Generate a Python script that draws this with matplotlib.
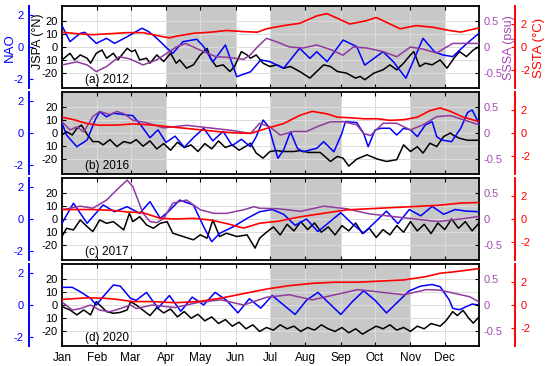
import matplotlib
matplotlib.use("Agg")
import matplotlib.pyplot as plt

plt.rcParams["font.family"] = ["Liberation Sans", "DejaVu Sans"]
plt.rcParams["axes.unicode_minus"] = False

MONTHS = ["Jan", "Feb", "Mar", "Apr", "May", "Jun",
          "Jul", "Aug", "Sep", "Oct", "Nov", "Dec"]
MONTH_START = [1, 32, 61, 92, 122, 153, 183, 214, 245, 275, 306, 336]
JSPA_TICKS = [-20, -10, 0, 10, 20]
JSPA_TICKLABELS = ["-20", "10", "0", "10", "20"]

# ---- (a) 2012 ----
NAO_2012_DAY = [1, 8, 17, 21, 31, 40, 47, 58, 71, 77, 84, 93, 98, 107, 119, 125, 133, 144, 154, 166,
                175, 183, 195, 209, 218, 224, 233, 247, 259, 266, 282, 291, 302, 317, 327, 334, 343, 355, 366]
NAO_2012 = [1.35, 0.34, 0.87, 0.93, 0.23, 0.55, 0.23, 0.65, 1.19, 0.97, 0.55, -0.08, -0.4, 0.34, 0.49,
            0.02, -0.95, 0.13, -1.88, -1.57, -0.82, -0.93, -1.35, -0.08, -0.72, -0.30, -0.93, 0.44, 0.02,
            -1.15, -0.30, -0.93, -1.98, 0.55, -0.30, -0.5, -0.61, 0.2, 0.87]
SSTA_2012_DAY = [1, 14, 28, 43, 58, 72, 87, 95, 101, 116, 131, 145, 160, 172, 180, 195, 209, 224, 233,
                 253, 267, 276, 297, 311, 326, 340, 350, 366]
SSTA_2012 = [1.3, 1.17, 1.08, 1.17, 1.26, 1.26, 0.95, 0.8, 0.95, 1.2, 1.3, 1.45, 1.35, 1.3, 1.6, 1.88,
             2.08, 2.73, 2.93, 2.02, 2.3, 2.59, 1.6, 1.88, 1.73, 1.45, 1.31, 1.68]
SSSA_2012_DAY = [1, 14, 23, 31, 40, 51, 60, 72, 84, 93, 101, 109, 116, 128, 136, 145, 160, 166, 172, 180,
                 189, 200, 212, 224, 236, 247, 256, 268, 282, 294, 306, 317, 329, 336, 343, 366]
SSSA_2012 = [-0.35, -0.29, -0.35, -0.48, -0.38, -0.19, -0.23, -0.35, -0.25, -0.12, 0.0, 0.07, 0.0, -0.12,
             -0.19, -0.2, -0.24, -0.15, 0.0, 0.17, 0.1, 0.0, -0.02, 0.04, -0.05, -0.16, 0.0, -0.02, -0.09,
             -0.19, 0.0, -0.04, -0.12, -0.02, 0.07, 0.07]
JSPA_2012_DAY = [1, 8, 12, 17, 23, 26, 31, 36, 40, 46, 50, 58, 62, 65, 69, 75, 78, 84, 90, 96, 101, 104,
                 110, 116, 122, 128, 131, 136, 142, 148, 152, 158, 163, 166, 171, 177, 183, 189, 195, 201,
                 209, 218, 224, 230, 236, 242, 250, 258, 262, 266, 274, 282, 288, 294, 300, 306, 309, 314,
                 319, 325, 332, 338, 344, 349, 355, 361, 366]
JSPA_2012 = [-9.75, -4.75, -9.75, -6, -8.5, -12.25, -4.75, -2.25, -8.5, -4.75, -9.75, -1, -3.5, -2.25,
             -9.75, -8.5, -12.25, -6, -11, -4.75, -12.25, -9.75, -16, -13.5, -6, -1, -8.5, -14.75, -13.5,
             -18.5, -14.75, -3.5, -6, -8.5, -6, -12.25, -14.75, -13.5, -16, -14.75, -18.5, -23.5, -18.5,
             -13.5, -14.75, -18.5, -19.75, -23.5, -22.25, -24.75, -19.75, -17.25, -13.5, -17.25, -12.25,
             -6, -3.5, -14.75, -12.25, -13.5, -9.75, -16, -8.5, -3.5, -7.25, -2.25, 0.25]

# ---- (b) 2016 ----
NAO_2016_DAY = [1, 5, 14, 23, 30, 34, 40, 46, 52, 58, 63, 70, 78, 85, 92, 100, 108, 116, 125, 133, 142,
                150, 158, 166, 171, 177, 182, 186, 190, 195, 201, 207, 212, 224, 230, 239, 246, 249, 259,
                265, 269, 275, 280, 288, 294, 300, 306, 312, 319, 325, 329, 333, 342, 350, 356, 360, 366]
NAO_2016 = [0.62, -0.13, -0.87, -0.44, 0.82, 1.35, 1.03, 1.25, 1.2, 1.14, 1.1, 0.5, -0.3, 0.2, -0.6,
            -0.2, -0.9, -0.3, 0.3, -0.5, 0.1, -0.8, -0.4, -0.87, -0.23, 0.82, 0.4, -0.65, -1.6, -1.08,
            0.08, -0.97, -1.19, -0.97, -0.55, -1.19, -0.02, 0.72, 0.66, -0.02, -0.87, 0.19, 0.3, 0.3,
            -0.13, 0.3, 0.2, -0.23, 0.51, 0.72, -0.23, -0.44, -0.55, 0.3, 1.3, 1.46, 0.6]
SSTA_2016_DAY = [1, 12, 23, 34, 50, 63, 80, 100, 120, 140, 155, 166, 180, 195, 209, 220, 233, 242, 253,
                 265, 277, 288, 300, 312, 323, 332, 341, 352, 366]
SSTA_2016 = [1.39, 1.15, 0.83, 0.68, 0.7, 0.8, 0.7, 0.5, 0.3, 0.1, 0.0, -0.03, 0.4, 0.83, 1.54, 1.9,
             1.68, 1.39, 1.34, 1.25, 1.25, 1.11, 1.17, 1.39, 1.96, 2.2, 1.9, 1.4, 1.0]
SSSA_2016_DAY = [1, 8, 14, 20, 28, 34, 43, 49, 55, 63, 75, 90, 110, 130, 150, 166, 174, 183, 192, 204,
                 215, 224, 236, 247, 259, 265, 271, 282, 294, 306, 317, 329, 341, 366]
SSSA_2016 = [0.22, 0.06, 0.12, 0.02, 0.32, 0.42, 0.36, 0.42, 0.38, 0.25, 0.2, 0.1, 0.15, 0.1, 0.05,
             -0.01, 0.19, 0.12, -0.04, 0.03, 0.03, 0.12, 0.22, 0.22, 0.16, -0.01, -0.05, 0.19, 0.19,
             0.06, 0.16, 0.32, 0.34, 0.16]
JSPA_2016_DAY = [1, 5, 10, 14, 18, 23, 28, 33, 37, 43, 49, 55, 61, 66, 72, 78, 84, 90, 96, 102, 108,
                 114, 120, 126, 132, 138, 144, 150, 156, 162, 166, 171, 177, 183, 189, 195, 204, 209, 217,
                 227, 236, 242, 247, 252, 259, 268, 277, 285, 294, 300, 306, 312, 317, 323, 329, 335, 341,
                 344, 349, 356, 366]
JSPA_2016 = [-1.5, 1, -1.5, 3.5, 6, -1, -6.5, -6.5, -9, -5, -10.3, -6.5, -7.7, -5, -10, -6, -12, -8,
             -13, -7, -11, -9, -14, -8, -12, -6, -11, -9, -13, -10, -7.7, -15.2, -19, -14, -13.3, -14,
             -14, -13.3, -14.7, -14.7, -21.5, -17.7, -19, -25, -19.7, -16.5, -19.7, -21.5, -20.2, -9,
             -14, -10.3, -15.2, -7.7, -10.3, -2.7, 0, -2, -4, -5.5, -5.5]

# ---- (c) 2017 ----
NAO_2017_DAY = [1, 11, 23, 37, 47, 58, 69, 78, 87, 94, 104, 116, 125, 132, 139, 151, 163, 174, 185,
                195, 205, 215, 225, 235, 245, 255, 265, 275, 285, 295, 305, 315, 325, 335, 345, 355, 366]
NAO_2017 = [-0.27, 1.0, -0.27, 0.89, 0.46, 0.78, 0.36, 1.1, 0.04, 0.46, 1.2, 0.89, -0.49, -1.44, -0.91,
            -0.49, 0.04, 0.46, 0.6, 0.3, -0.4, 0.0, -0.8, -0.2, 0.4, -0.3, -0.9, -0.2, 0.5, -0.3, 0.6,
            0.2, 0.8, 0.3, 0.6, 0.5, 0.46]
SSTA_2017_DAY = [1, 28, 46, 58, 72, 87, 101, 116, 131, 145, 160, 174, 190, 210, 230, 250, 270, 290, 310,
                 330, 350, 366]
SSTA_2017 = [0.83, 0.83, 0.75, 0.62, 0.55, 0.06, 0.0, 0.06, -0.09, -0.4, -0.8, -0.37, -0.2, 0.2, 0.5,
             0.8, 0.9, 1.0, 1.1, 1.2, 1.4, 1.45]
SSSA_2017_DAY = [1, 17, 28, 40, 49, 58, 63, 72, 78, 84, 90, 98, 110, 122, 134, 145, 160, 169, 174, 190,
                 210, 230, 250, 270, 290, 310, 330, 350, 366]
SSSA_2017 = [0.18, 0.25, 0.21, 0.37, 0.57, 0.76, 0.63, 0.11, -0.05, -0.07, 0.01, 0.31, 0.37, 0.18, 0.11,
             0.11, 0.18, 0.24, 0.21, 0.2, 0.15, 0.25, 0.2, 0.1, 0.05, 0.0, -0.05, 0.0, 0.05]
JSPA_2017_DAY = [1, 5, 11, 17, 23, 28, 34, 40, 46, 55, 60, 63, 69, 75, 81, 87, 93, 98, 107, 116, 122,
                 128, 133, 139, 145, 154, 163, 170, 174, 180, 186, 192, 198, 204, 210, 216, 222, 228, 234,
                 240, 246, 252, 258, 264, 270, 276, 282, 288, 294, 300, 306, 312, 318, 324, 330, 336, 342,
                 348, 354, 360, 366]
JSPA_2017 = [-13.3, -7, -8.3, -0.75, -5.75, -9.5, -0.75, -3.25, -2, -8.25, 4.25, -2, 1.75, -4.5, -7,
             -3.25, -2, -10.75, -13.25, -15.75, -12, -14.5, -0.75, -13.25, -10.75, -13.25, -12, -22,
             -14.5, -10, -6, -12, -4, -9, -2, -8, -3, -10, -6, -12, -5, -9, -3, -11, -7, -14, -8, -12,
             -5, -10, -2, -9, -4, -11, -3, -8, 0, -7, -2, -9, -3]

# ---- (d) 2020 ----
NAO_2020_DAY = [1, 10, 17, 26, 31, 37, 46, 52, 61, 66, 75, 85, 95, 105, 115, 125, 135, 145, 155, 165,
                175, 185, 195, 205, 215, 225, 235, 245, 255, 265, 275, 285, 295, 305, 315, 325, 332, 340,
                343, 349, 355, 360, 366]
NAO_2020 = [1.12, 1.12, 0.84, 0.42, 0.0, 0.53, 1.27, 1.2, 0.42, 0.3, 0.8, -0.2, 0.6, -0.4, 0.5, 0.0,
            0.8, 0.3, -0.5, 0.4, -0.2, 0.6, 0.0, -0.6, 0.3, 0.8, 0.1, -0.6, 0.2, 0.9, 0.3, -0.5, 0.2,
            0.9, 1.2, 1.3, 1.16, 0.32, -0.21, -0.3, -0.1, 0.06, 0.0]
SSTA_2020_DAY = [1, 23, 37, 49, 63, 80, 100, 120, 140, 160, 180, 200, 220, 240, 260, 280, 300, 320, 332,
                 343, 355, 366]
SSTA_2020 = [0.49, 0.63, 0.6, 0.5, 0.3, 0.3, 0.2, 0.3, 0.6, 1.0, 1.4, 1.7, 1.9, 2.0, 2.0, 2.1, 2.2, 2.5,
             2.79, 2.9, 3.05, 3.2]
SSSA_2020_DAY = [1, 10, 17, 26, 34, 43, 52, 61, 66, 80, 100, 120, 140, 160, 180, 200, 220, 240, 260,
                 280, 300, 320, 332, 346, 358, 366]
SSSA_2020 = [0.06, -0.1, -0.07, 0.0, -0.1, -0.13, -0.07, 0.0, -0.07, 0.0, -0.05, 0.05, 0.1, 0.0, 0.15,
             0.2, 0.1, 0.2, 0.3, 0.25, 0.2, 0.3, 0.29, 0.22, 0.16, 0.06]
JSPA_2020_DAY = [1, 8, 14, 20, 26, 31, 34, 40, 46, 52, 58, 61, 66, 72, 78, 84, 90, 96, 102, 108, 114,
                 120, 126, 132, 138, 144, 150, 156, 162, 168, 174, 180, 186, 192, 198, 204, 210, 216, 222,
                 228, 234, 240, 246, 252, 258, 264, 270, 276, 282, 288, 294, 300, 306, 312, 318, 324, 332,
                 337, 343, 347, 352, 357, 361, 366]
JSPA_2020 = [-1.25, -3.75, -7.5, -3.75, -7.5, 2.5, 0, -5, -6.25, -5.6, -3.75, 2.5, 0, -4, -8, -2, -6, -3,
             -9, -5, -10, -7, -12, -9, -14, -11, -16, -13, -18, -15, -20, -17, -19, -15, -18, -16, -20,
             -17, -19, -15, -18, -20, -17, -21, -18, -22, -19, -16, -18, -15, -19, -17, -20, -16, -18,
             -14, -16, -12, -5, -8, -4, -10, -13.7, -9]

PANEL_LABELS = ["(a) 2012", "(b) 2016", "(c) 2017", "(d) 2020"]
# shaded month spans (start day, end day)
SHADED = [
    [(92, 153), (183, 336)],
    [(1, 92), (183, 245), (306, 367)],
    [(183, 245), (306, 367)],
    [(183, 306)],
]
PANELS = [
    (NAO_2012_DAY, NAO_2012, JSPA_2012_DAY, JSPA_2012, SSSA_2012_DAY, SSSA_2012, SSTA_2012_DAY, SSTA_2012),
    (NAO_2016_DAY, NAO_2016, JSPA_2016_DAY, JSPA_2016, SSSA_2016_DAY, SSSA_2016, SSTA_2016_DAY, SSTA_2016),
    (NAO_2017_DAY, NAO_2017, JSPA_2017_DAY, JSPA_2017, SSSA_2017_DAY, SSSA_2017, SSTA_2017_DAY, SSTA_2017),
    (NAO_2020_DAY, NAO_2020, JSPA_2020_DAY, JSPA_2020, SSSA_2020_DAY, SSSA_2020, SSTA_2020_DAY, SSTA_2020),
]

BLUE = "#0000ff"
RED = "#ff0000"
PURPLE = "#8e3a9e"
PURPLE_TXT = "#a54bb5"
SHADE = "#c8c8c8"
GRID = "#dcdcdc"

W, H = 550, 366
fig = plt.figure(figsize=(W / 100, H / 100), dpi=100)

LEFT, RIGHT = 62, 479
TOPS = [6, 92, 178, 264]
PH = 82
PT = 0.72  # points per pixel at 100 dpi
TICK_FS = 8

for i, (nd, nv, jd, jv, sd, sv, td, tv) in enumerate(PANELS):
    top = TOPS[i]
    ax = fig.add_axes([LEFT / W, 1 - (top + PH) / H, (RIGHT - LEFT) / W, PH / H])
    ax.set_xlim(1, 366)
    ax.set_ylim(-31, 31)
    for a, b in SHADED[i]:
        ax.axvspan(a, b, color=SHADE, lw=0, zorder=0.2)
    ax.set_xticks(MONTH_START)
    ax.set_yticks(JSPA_TICKS)
    ax.set_yticklabels(JSPA_TICKLABELS)
    ax.grid(True, color=GRID, lw=0.7, zorder=0.5)
    ax.set_axisbelow(True)
    ax.tick_params(direction="in", length=3, width=0.8, labelsize=TICK_FS, top=True, pad=3)
    ax.tick_params(axis="x", labelsize=8.5, pad=4)
    if i == 3:
        ax.set_xticklabels(MONTHS)
    else:
        ax.set_xticklabels([])
    for s in ax.spines.values():
        s.set_linewidth(1.3)
    ax.plot(jd, jv, color="black", lw=1.1, zorder=3)
    ax.text(0.055, 0.10, PANEL_LABELS[i], transform=ax.transAxes, fontsize=8.5,
            ha="left", va="center", zorder=5)

    # NAO axis (blue, left, detached)
    nao = ax.twinx()
    nao.set_ylim(-2.6, 2.6)
    for k in ["right", "top", "bottom"]:
        nao.spines[k].set_visible(False)
    nao.spines["left"].set_visible(True)
    nao.spines["left"].set_position(("outward", 33 * PT))
    nao.spines["left"].set_color(BLUE)
    nao.spines["left"].set_linewidth(1.4)
    nao.yaxis.tick_left()
    nao.set_yticks([-2, 0, 2])
    nao.set_yticklabels(["-2", "0", "2"])
    nao.tick_params(axis="y", direction="in", length=3, color=BLUE, labelcolor=BLUE,
                    labelsize=TICK_FS, pad=4)

    # SSSA axis (purple labels on the box's right edge)
    sss = ax.twinx()
    sss.set_ylim(-0.8, 0.8)
    for k in ["left", "top", "bottom", "right"]:
        sss.spines[k].set_visible(False)
    sss.set_yticks([-0.5, 0, 0.5])
    sss.set_yticklabels(["-0.5", "0", "0.5"])
    sss.tick_params(axis="y", direction="in", length=3, color="black", labelcolor=PURPLE_TXT,
                    labelsize=TICK_FS, pad=3)

    # SSTA axis (red, right, detached)
    sst = ax.twinx()
    sst.set_ylim(-3.6, 3.6)
    for k in ["left", "top", "bottom"]:
        sst.spines[k].set_visible(False)
    sst.spines["right"].set_position(("outward", 36 * PT))
    sst.spines["right"].set_color(RED)
    sst.spines["right"].set_linewidth(1.4)
    sst.set_yticks([-2, 0, 2])
    sst.set_yticklabels(["-2", "0", "2"])
    sst.tick_params(axis="y", direction="in", length=3, color=RED, labelcolor=RED,
                    labelsize=TICK_FS, pad=4)

    sss.plot(sd, sv, color=PURPLE, lw=1.1)
    sst.plot(td, tv, color=RED, lw=1.2)
    nao.plot(nd, nv, color=BLUE, lw=1.1)

    if i == 0:
        yc = 1 - (top + 42) / H
        fig.text(10 / W, yc, "NAO", color=BLUE, rotation=90, ha="center", va="center", fontsize=9.5)
        fig.text(38 / W, 1 - (top + 35) / H, "JSPA (°N)", color="black", rotation=90,
                 ha="center", va="center", fontsize=9)
        fig.text(509 / W, yc, "SSSA (psu)", color=PURPLE_TXT, rotation=90, ha="center",
                 va="center", fontsize=9)
        fig.text(539 / W, yc, "SSTA (°C)", color=RED, rotation=90, ha="center", va="center",
                 fontsize=9.5)

fig.savefig("out.png", dpi=100)
